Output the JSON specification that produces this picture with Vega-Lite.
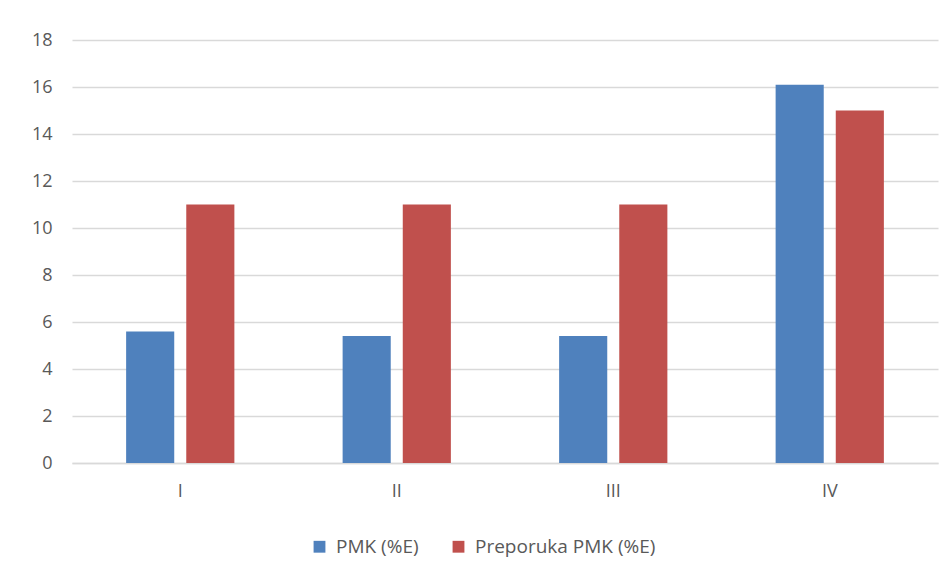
{
  "$schema": "https://vega.github.io/schema/vega-lite/v6.json",
  "autosize": "none",
  "width": 866,
  "height": 423,
  "padding": {"left": 72, "top": 40, "right": 14, "bottom": 116},
  "background": "white",
  "config": {
    "view": {"stroke": null},
    "font": "Open Sans"
  },
  "data": {
    "values": [
      {"grupa": "I", "serija": "PMK (%E)", "vrijednost": 5.6},
      {"grupa": "I", "serija": "Preporuka PMK (%E)", "vrijednost": 11},
      {"grupa": "II", "serija": "PMK (%E)", "vrijednost": 5.4},
      {"grupa": "II", "serija": "Preporuka PMK (%E)", "vrijednost": 11},
      {"grupa": "III", "serija": "PMK (%E)", "vrijednost": 5.4},
      {"grupa": "III", "serija": "Preporuka PMK (%E)", "vrijednost": 11},
      {"grupa": "IV", "serija": "PMK (%E)", "vrijednost": 16.1},
      {"grupa": "IV", "serija": "Preporuka PMK (%E)", "vrijednost": 15}
    ]
  },
  "mark": {"type": "bar"},
  "encoding": {
    "x": {
      "field": "grupa",
      "type": "nominal",
      "sort": ["I", "II", "III", "IV"],
      "scale": {"paddingInner": 0.5, "paddingOuter": 0.25},
      "axis": {
        "title": null,
        "labelAngle": 0,
        "labelColor": "#595959",
        "labelFontSize": 18,
        "labelPadding": 19,
        "ticks": false,
        "domainColor": "#d9d9d9",
        "domainWidth": 1.5
      }
    },
    "xOffset": {
      "field": "serija",
      "type": "nominal",
      "scale": {"paddingInner": 0.2, "paddingOuter": 0}
    },
    "y": {
      "field": "vrijednost",
      "type": "quantitative",
      "scale": {"domain": [0, 18], "nice": false},
      "axis": {
        "title": null,
        "values": [0, 2, 4, 6, 8, 10, 12, 14, 16, 18],
        "labelColor": "#595959",
        "labelFontSize": 18,
        "labelPadding": 20,
        "ticks": false,
        "domain": false,
        "gridColor": "#d9d9d9",
        "gridWidth": 1.3
      }
    },
    "color": {
      "field": "serija",
      "type": "nominal",
      "scale": {"domain": ["PMK (%E)", "Preporuka PMK (%E)"], "range": ["#4f81bd", "#c0504d"]},
      "legend": {
        "title": null,
        "orient": "none",
        "direction": "horizontal",
        "legendX": 238,
        "legendY": 497,
        "symbolType": "square",
        "symbolSize": 140,
        "symbolStrokeWidth": 0,
        "labelFontSize": 19,
        "labelLimit": 400,
        "labelColor": "#595959",
        "columnPadding": 30,
        "labelOffset": 7
      }
    }
  }
}
